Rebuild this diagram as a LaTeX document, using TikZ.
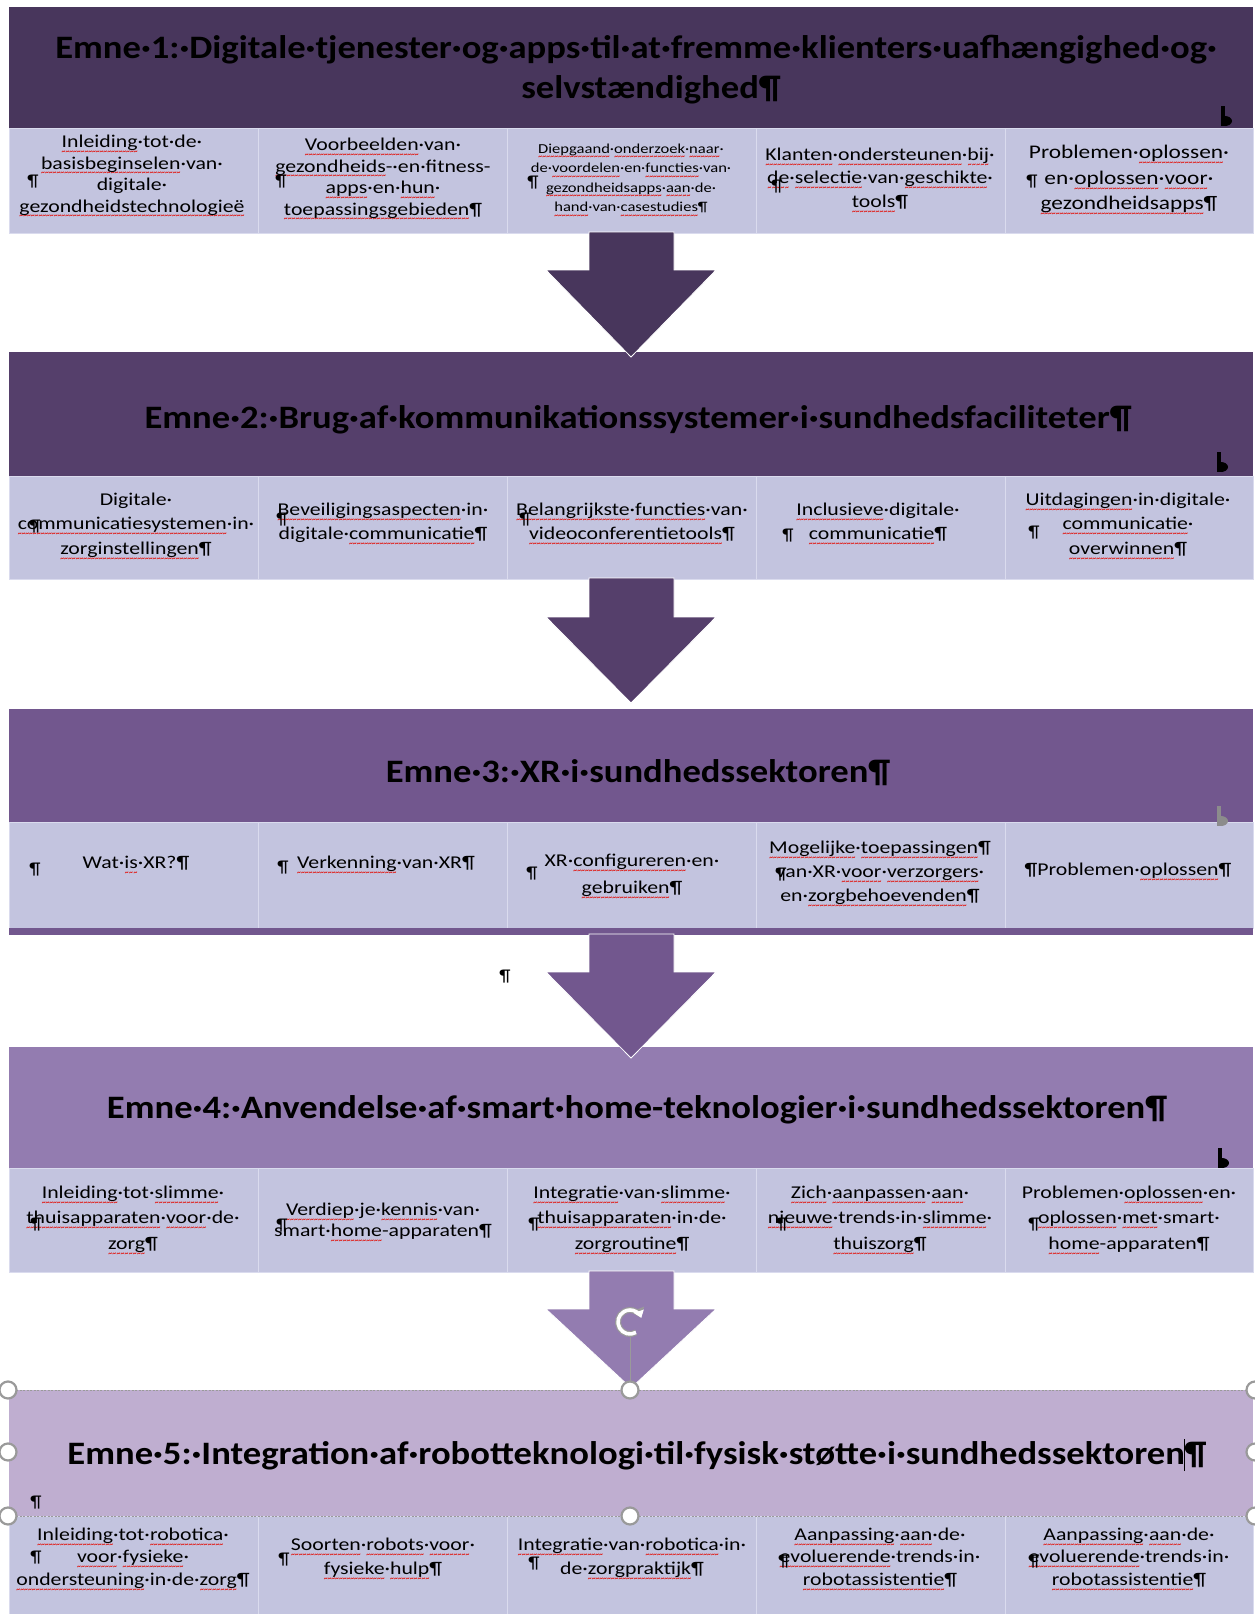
\documentclass[tikz,border=0pt]{standalone}
\usepackage{fontspec}
\setmainfont[FakeStretch=1.12]{Carlito}
\newfontfamily\cellfont[FakeStretch=1.21]{Carlito}
\newfontfamily\squigfont[FakeStretch=0.8]{Carlito}
\usetikzlibrary{arrows.meta}
\definecolor{cA}{HTML}{48365C}
\definecolor{cB}{HTML}{553F6B}
\definecolor{cC}{HTML}{72578E}
\definecolor{cD}{HTML}{937CB0}
\definecolor{cE}{HTML}{BFAED0}
\definecolor{subrow}{HTML}{C3C4DF}
\definecolor{cellline}{HTML}{DADBEE}
\definecolor{handle}{HTML}{9A9A9A}
\definecolor{squig}{HTML}{E0201C}
\newcommand\sq[1]{\setbox0\hbox{#1}\rlap{\raisebox{-6.6pt}{\hbox to \wd0{\color{squig}\squigfont\bfseries\fontsize{9.5}{9.5}\selectfont\xleaders\hbox{\textasciitilde}\hfill}}}\box0}
\newcommand\fs[2]{\cellfont\fontsize{#1}{#2}\selectfont}
\tikzset{
  hdr/.style={font=\fontsize{32.7}{40}\selectfont\bfseries, align=center, inner sep=0pt},
  celltxt/.style={font=\fs{18}{21.5}, align=center, inner sep=0pt},
  pil/.style={font=\fontsize{17}{20}\selectfont, inner sep=0pt},
  cellbox/.style={fill=subrow, draw=cellline, line width=1pt},
}
\newcommand\band[4]{%
  \fill[#1] (9,#2) rectangle (1253,#3);
  \foreach \xa/\xb in {9/258,258/507,507/756,756/1005,1005/1253}
    \draw[cellbox] (\xa,#3) rectangle (\xb,#4);
}
\newcommand\blockarrow[4]{%
  \fill[#1, draw=white, line width=0.8pt] (589,#2) -- (674,#2) -- (674,#3) -- (716,#3)
     -- (631,#4) -- (546,#3) -- (589,#3) -- cycle;
}
\newcommand\cornermark[3]{%
  \fill[#3] (#1,#2) rectangle ++(4,20);
  \fill[#3] (#1+4,#2+10) arc[start angle=-90, end angle=90, x radius=7, y radius=5] -- cycle;
}
\begin{document}
\begin{tikzpicture}[x=1pt,y=-1pt]
\useasboundingbox (0,0) rectangle (1255,1614);
\fill[white] (0,0) rectangle (1255,1614);

% bands
\band{cA}{7}{128}{233}
\band{cB}{352}{476}{579}
\band{cC}{709}{822}{928}
\fill[cC] (9,928) rectangle (1253,935);
\band{cD}{1047}{1168}{1272}
\band{cE}{1390}{1516}{1614}

% block arrows
\blockarrow{cA}{232}{270}{357}
\blockarrow{cB}{578}{617}{703}
\blockarrow{cC}{934}{972}{1058}
\blockarrow{cD}{1271}{1309}{1388}

% corner marks
\cornermark{1221}{106}{black}
\cornermark{1217}{452}{black}
\cornermark{1217}{806}{black!45}
\cornermark{1218}{1148}{black}

% headers
\node[hdr] (h1a) at (636,50) {Emne·1:·Digitale·tjenester·og·apps·til·at·fremme·klienters·uafhængighed·og·};
\node[hdr] (h1b) at (651,90) {selvstændighed¶};
\node[hdr] (h2) at (638,420) {Emne·2:·Brug·af·kommunikationssystemer·i·sundhedsfaciliteter¶};
\node[hdr] (h3) at (638,773) {Emne·3:·XR·i·sundhedssektoren¶};
\node[hdr] (h4) at (637,1110) {Emne·4:·Anvendelse·af·smart·home-teknologier·i·sundhedssektoren¶};
\node[hdr] (h5) at (637,1455) {Emne·5:·Integration·af·robotteknologi·til·fysisk·støtte·i·sundhedssektoren\makebox[0pt]{\rule[-7pt]{0.8pt}{32pt}}¶};

% band 1 cells
\node[celltxt] (t11) at (132,177) {\sq{Inleiding}·tot·de·\\\sq{basisbeginselen}·van·\\digitale·\\\sq{gezondheidstechnologieë}};
\node[celltxt] (t12) at (383,180) {\sq{Voorbeelden}·van·\\\sq{gezondheids}-·en·fitness-\\\sq{apps}·en·\sq{hun}·\\\sq{toepassingsgebieden}¶};
\node[celltxt, font=\fs{13.7}{19.5}] (t13) at (631,181) {\sq{Diepgaand}·\sq{onderzoek}·\sq{naar}·\\de·\sq{voordelen}·en·\sq{functies}·van·\\\sq{gezondheidsapps}·\sq{aan}·de·\\\sq{hand}·van·\sq{casestudies}¶};
\node[celltxt, font=\fs{18}{23.5}] (t14) at (880,181) {\sq{Klanten}·\sq{ondersteunen}·\sq{bij}·\\\sq{de}·\sq{selectie}·van·\sq{geschikte}·\\\sq{tools}¶};
\node[celltxt, font=\fs{19.3}{25.5}] (t15) at (1129,181) {Problemen·\sq{oplossen}·\\en·\sq{oplossen}·\sq{voor}·\\\sq{gezondheidsapps}¶};
\node[pil] (p11) at (33,182) {¶};
\node[pil] (p12) at (281,182) {¶};
\node[pil] (p13) at (533,183) {¶};
\node[pil] (p14) at (777,187) {¶};
\node[pil] (p15) at (1032,182) {¶};

% band 2 cells
\node[celltxt, font=\fs{18}{24.5}] (t21) at (136,527) {Digitale·\\\sq{communicatiesystemen}·in·\\\sq{zorginstellingen}¶};
\node[celltxt, font=\fs{18}{24}] (t22) at (383,525) {\sq{Beveiligingsaspecten}·in·\\digitale·\sq{communicatie}¶};
\node[celltxt, font=\fs{18}{24}] (t23) at (632,525) {\sq{Belangrijkste}·\sq{functies}·van·\\\sq{videoconferentietools}¶};
\node[celltxt, font=\fs{18}{24}] (t24) at (878,525) {\sq{Inclusieve}·digitale·\\\sq{communicatie}¶};
\node[celltxt, font=\fs{18}{24.5}] (t25) at (1128,527) {\sq{Uitdagingen}·in·digitale·\\\sq{communicatie}·\\\sq{overwinnen}¶};
\node[pil] (p21) at (35,527) {¶};
\node[pil] (p22) at (282,520) {¶};
\node[pil] (p23) at (525,520) {¶};
\node[pil] (p24) at (788,536) {¶};
\node[pil] (p25) at (1034,533) {¶};

% band 3 cells
\node[celltxt] (t31) at (136,866) {Wat·\sq{is}·XR?¶};
\node[celltxt] (t32) at (386,866) {\sq{Verkenning}·van·XR¶};
\node[celltxt, font=\fs{18}{27}] (t33) at (632,877) {XR·\sq{configureren}·en·\\\sq{gebruiken}¶};
\node[celltxt, font=\fs{18}{24}] (t34) at (880,875) {\sq{Mogelijke}·\sq{toepassingen}¶\\van·XR·\sq{voor}·\sq{verzorgers}·\\en·\sq{zorgbehoevenden}¶};
\node[celltxt] (t35) at (1128,873) {¶Problemen·\sq{oplossen}¶};
\node[pil] (p31) at (35,870) {¶};
\node[pil] (p32) at (283,868) {¶};
\node[pil] (p33) at (532,874) {¶};
\node[pil] (p34) at (781,875) {¶};

% band 4 cells
\node[celltxt, font=\fs{18}{25.5}] (t41) at (133,1221) {\sq{Inleiding}·tot·\sq{slimme}·\\\sq{thuisapparaten}·\sq{voor}·de·\\\sq{zorg}¶};
\node[celltxt, font=\fs{18}{21}] (t42) at (383,1223) {\sq{Verdiep}·je·\sq{kennis}·van·\\smart·\sq{home}-apparaten¶};
\node[celltxt, font=\fs{18}{25.5}] (t43) at (632,1221) {\sq{Integratie}·van·\sq{slimme}·\\\sq{thuisapparaten}·in·de·\\\sq{zorgroutine}¶};
\node[celltxt, font=\fs{18}{25.5}] (t44) at (880,1221) {\sq{Zich}·\sq{aanpassen}·\sq{aan}·\\\sq{nieuwe}·trends·in·\sq{slimme}·\\\sq{thuiszorg}¶};
\node[celltxt, font=\fs{18}{25.5}] (t45) at (1129,1221) {Problemen·\sq{oplossen}·en·\\\sq{oplossen}·\sq{met}·smart·\\\sq{home}-apparaten¶};
\node[pil] (p41) at (36,1225) {¶};
\node[pil] (p42) at (282,1226) {¶};
\node[pil] (p43) at (534,1225) {¶};
\node[pil] (p44) at (782,1225) {¶};
\node[pil] (p45) at (1034,1225) {¶};

% band 5 cells
\node[celltxt, font=\fs{18}{22.5}] (t51) at (133,1560) {\sq{Inleiding}·tot·\sq{robotica}·\\\sq{voor}·\sq{fysieke}·\\\sq{ondersteuning}·in·de·\sq{zorg}¶};
\node[celltxt, font=\fs{18}{24}] (t52) at (383,1560) {\sq{Soorten}·\sq{robots}·\sq{voor}·\\\sq{fysieke}·\sq{hulp}¶};
\node[celltxt, font=\fs{18}{24}] (t53) at (632,1560) {\sq{Integratie}·van·\sq{robotica}·in·\\de·\sq{zorgpraktijk}¶};
\node[celltxt, font=\fs{18}{22.5}] (t54) at (880,1560) {\sq{Aanpassing}·\sq{aan}·de·\\\sq{evoluerende}·trends·in·\\\sq{robotassistentie}¶};
\node[celltxt, font=\fs{18}{22.5}] (t55) at (1129,1560) {\sq{Aanpassing}·\sq{aan}·de·\\\sq{evoluerende}·trends·in·\\\sq{robotassistentie}¶};
\node[pil] (p51) at (36,1558) {¶};
\node[pil] (p52) at (284,1560) {¶};
\node[pil] (p53) at (534,1564) {¶};
\node[pil] (p54) at (784,1562) {¶};
\node[pil] (p55) at (1034,1562) {¶};

% stray paragraph marks
\node[pil] (px1) at (505,977) {¶};
\node[pil] (px2) at (36,1503) {¶};

% selection handles of the last band
\draw[handle, dash pattern=on 2pt off 1.5pt, line width=0.9pt] (9,1390) -- (1255,1390);
\draw[handle, dash pattern=on 2pt off 1.5pt, line width=0.9pt] (9,1516) -- (1255,1516);
\coordinate (rot) at (630,1322);
\coordinate (topmid) at (630,1390);
\draw[handle, line width=1pt] (rot) ++(0,14) -- (topmid);
\foreach \hx/\hy in {8/1390,630/1390,1255/1390,8/1452,1255/1452,8/1516,630/1516,1255/1516}
  \draw[handle, line width=2.2pt, fill=white] (\hx,\hy) circle (8.5);
% rotation handle
\draw[handle, line width=6pt, -{Triangle[length=9pt,width=13pt]}] (rot) ++(60:12) arc[start angle=60, end angle=338, radius=12];
\draw[white, line width=3.6pt, -{Triangle[length=7pt,width=10pt]}] (rot) ++(60:12) arc[start angle=60, end angle=340, radius=12];
\end{tikzpicture}
\end{document}
